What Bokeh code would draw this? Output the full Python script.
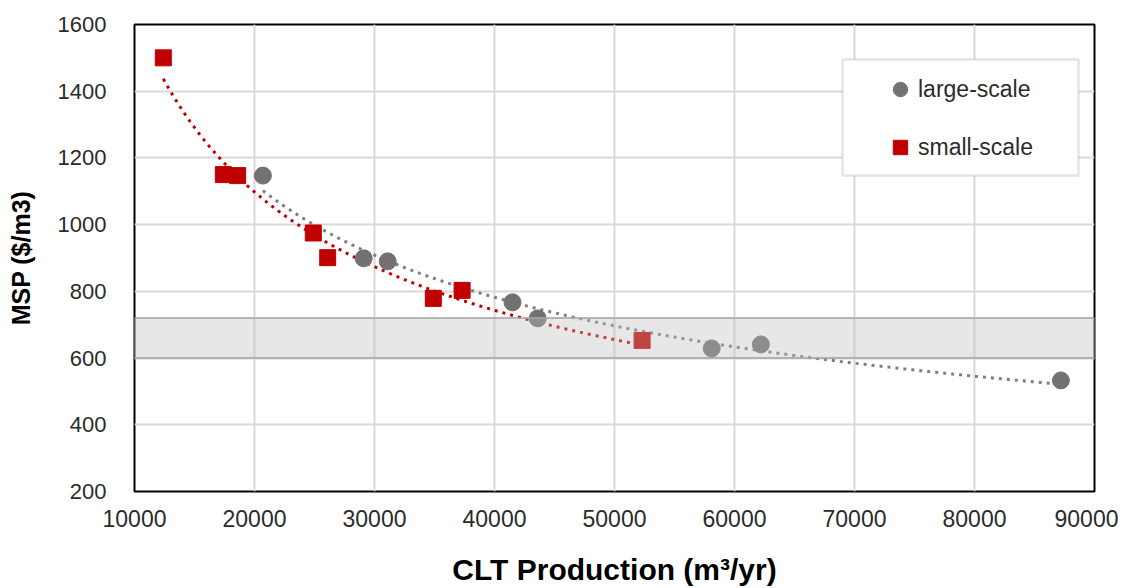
import numpy as np
from bokeh.plotting import figure
from bokeh.models import Legend, LegendItem, BoxAnnotation, Range1d, SingleIntervalTicker
from bokeh.embed import file_html
from bokeh.resources import INLINE

# ---- data ----
large_x = [20700, 29100, 31100, 41500, 43600, 58100, 62200, 87200]
large_y = [1147, 899, 890, 767, 719, 629, 641, 533]
small_x = [12400, 17400, 18600, 24900, 26100, 34900, 37300, 52300]
small_y = [1500, 1150, 1147, 975, 901, 779, 803, 653]
band_range = [600, 720]
x_label = "CLT Production (m\u00b3/yr)"
y_label = "MSP ($/m3)"
series_names = ["large-scale", "small-scale"]


def power_trend(xs, ys, n=200):
    b, log_a = np.polyfit(np.log(xs), np.log(ys), 1)
    xx = np.linspace(min(xs), max(xs), n)
    return xx, np.exp(log_a) * xx ** b


W, H = 1118, 588
FRAME_L, FRAME_T, FRAME_R, FRAME_B = 134, 24, 1094, 492

p = figure(width=W, height=H, output_backend="svg", toolbar_location=None,
           x_range=Range1d(10000, 90000), y_range=Range1d(200, 1600),
           min_border_left=FRAME_L, min_border_right=W - FRAME_R,
           min_border_top=FRAME_T, min_border_bottom=H - FRAME_B)
p.background_fill_color = "white"
p.border_fill_color = "white"
p.outline_line_color = "black"
p.outline_line_width = 2

p.xaxis.ticker = SingleIntervalTicker(interval=10000)
p.yaxis.ticker = SingleIntervalTicker(interval=200)
for ax in (p.xaxis[0], p.yaxis[0]):
    ax.axis_line_color = None
    ax.major_tick_line_color = None
    ax.minor_tick_line_color = None
    ax.major_label_text_font = "Liberation Sans"
    ax.major_label_text_color = "#2b2b2b"
    ax.axis_label_text_font = "Liberation Sans"
    ax.axis_label_text_font_style = "bold"
    ax.axis_label_text_color = "black"

p.xaxis.major_label_text_font_size = "23px"
p.yaxis.major_label_text_font_size = "22px"
p.xaxis.major_label_standoff = 12
p.yaxis.major_label_standoff = 22
p.xaxis.axis_label = x_label
p.yaxis.axis_label = y_label
p.xaxis.axis_label_text_font_size = "30px"
p.yaxis.axis_label_text_font_size = "25px"
p.xaxis.axis_label_standoff = 23
p.yaxis.axis_label_standoff = 20

p.grid.grid_line_color = "#d9d9d9"
p.grid.grid_line_width = 2

# trend lines (power fits, like Excel)
lx, ly = power_trend(large_x, large_y)
sx, sy = power_trend(small_x, small_y)
p.line(lx, ly, line_color="#7f7f7f", line_width=3, line_dash="3 5")
p.line(sx, sy, line_color="#c00000", line_width=3, line_dash="3 5")

r_large = p.scatter(large_x, large_y, marker="circle", size=17,
                    fill_color="#767171", line_color="#767171")
r_small = p.scatter(small_x, small_y, marker="square", size=16,
                    fill_color="#c00000", line_color="#c00000")

band = BoxAnnotation(bottom=band_range[0], top=band_range[1],
                     fill_color="#bcbcbc", fill_alpha=0.36,
                     line_color="#a6a6a6", line_alpha=0.8, line_width=2)
p.add_layout(band)

# legend frame (screen units relative to the plot frame, y measured upward)
legend_box = BoxAnnotation(left=842 - FRAME_L, right=1078 - FRAME_L,
                           top=FRAME_B - 60, bottom=FRAME_B - 176,
                           left_units="screen", right_units="screen",
                           top_units="screen", bottom_units="screen",
                           fill_color="white", fill_alpha=1,
                           line_color="#a6a6a6", line_width=2.5)
p.add_layout(legend_box)

legend = Legend(items=[LegendItem(label=series_names[0], renderers=[r_large]),
                       LegendItem(label=series_names[1], renderers=[r_small])],
                location=(882 - FRAME_L, FRAME_B - 166), padding=0, spacing=22,
                glyph_width=36, glyph_height=36, label_standoff=0,
                border_line_color=None, background_fill_alpha=0,
                label_text_font="Liberation Sans", label_text_font_size="23px",
                label_text_color="#2b2b2b", margin=0)
p.add_layout(legend)

open("out.html", "w").write(file_html(p, INLINE))
